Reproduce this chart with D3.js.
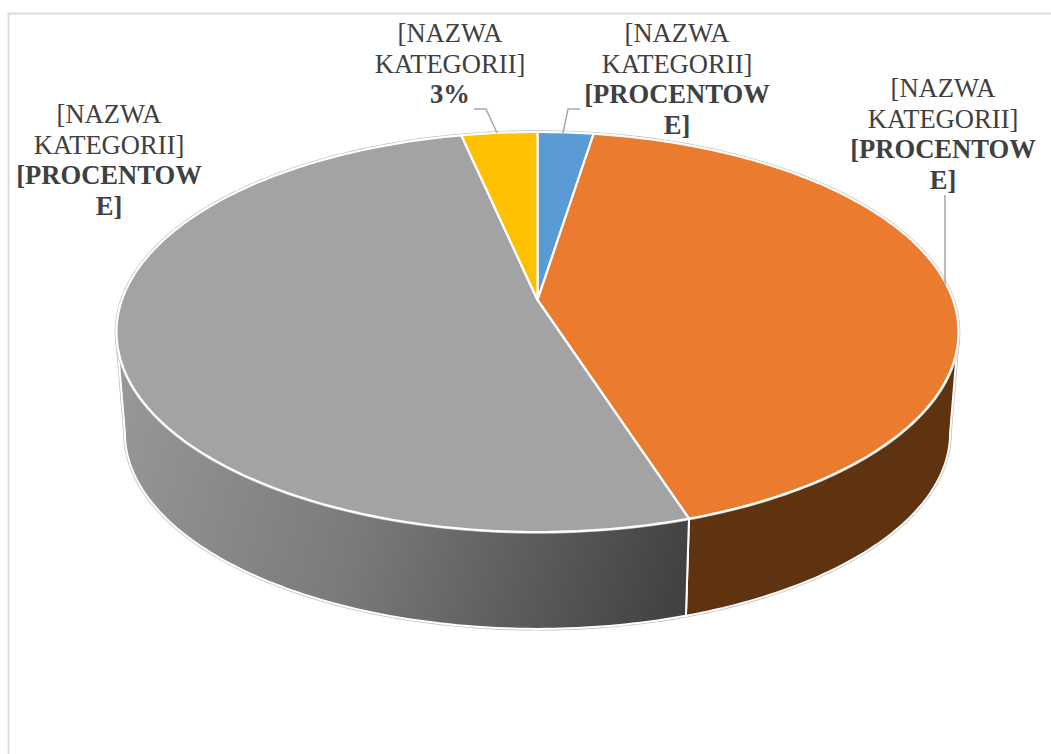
<!DOCTYPE html>
<html>
<head>
<meta charset="utf-8">
<script src="https://cdn.jsdelivr.net/npm/d3@7"></script>
<style>
html, body { margin: 0; padding: 0; background: #fff; }
svg { display: block; }
text { font-family: "Liberation Serif", serif; font-size: 26.6px; fill: #404040; text-anchor: middle; }
</style>
</head>
<body>
<div id="chart"></div>
<script>
//////////////////////////////////////////////////////////////////////////////
// Data

var categories = ["blue", "orange", "gray", "yellow"];
var shares = [2.5, 42.5, 51.6, 3.4];
var topColors = ["#5b9bd5", "#ea7b2f", "#a3a3a3", "#ffc000"];
var nameLines = ["[NAZWA", "KATEGORII]"];
var valueLines = [
    ["[PROCENTOW", "E]"],
    ["[PROCENTOW", "E]"],
    ["[PROCENTOW", "E]"],
    ["3%"]
];

//////////////////////////////////////////////////////////////////////////////
// Layout

var width = 1051, height = 754;
var cx = 537.5, apexY = 300;
var tilt = 0.16;             // perspective of the disc
var rimX = 415.6, rimY = 194.9;
var depth = 101.5, floorScale = 0.98;

var labelPos = [
    {x: 677, y: 42},
    {x: 943, y: 97},
    {x: 109, y: 123},
    {x: 450, y: 42}
];
var leaders = [
    "M580,109 L568,109 L563,133",
    "M945,195 L945,285",
    "",
    "M474,109 L486,109 L497,133"
];

// the wall only shows between the two points where the rim is widest
var wallFrom = Math.acos(-tilt);
var wallTo = 2 * Math.PI - wallFrom;

// unit disc -> screen, looking at it from above and in front
function project(angle, scale, dy) {
    var X = Math.sin(angle), Y = -Math.cos(angle);
    var w = 1 - tilt * Y;
    return [cx + scale * rimX * X / w, apexY + dy + scale * rimY * Y / w];
}

function arcPoints(d, scale, dy) {
    var n = Math.max(2, Math.ceil((d.endAngle - d.startAngle) * 60));
    var step = d3.scaleLinear().domain([0, n]).range([d.startAngle, d.endAngle]);
    return d3.range(n + 1).map(function(i) { return project(step(i), scale, dy); });
}

var line = d3.line();

function clampWall(d) {
    return {
        startAngle: Math.max(d.startAngle, wallFrom),
        endAngle: Math.min(d.endAngle, wallTo)
    };
}

function wallPath(d) {
    var c = clampWall(d);
    if (c.endAngle <= c.startAngle) return null;
    var upper = arcPoints(c, 1, 0);
    var lower = arcPoints(c, floorScale, depth).reverse();
    return line(upper.concat(lower)) + "Z";
}

function facePath(d) {
    return line([[cx, apexY]].concat(arcPoints(d, 1, 0))) + "Z";
}

//////////////////////////////////////////////////////////////////////////////
// Drawing

var svg = d3.select("#chart").append("svg")
    .attr("width", width)
    .attr("height", height);

svg.append("rect").attr("width", width).attr("height", height).attr("fill", "#fff");

// frame, runs off the right and bottom of the picture
svg.append("path")
    .attr("d", "M1051,13.5 L8.5,13.5 L8.5,754")
    .attr("fill", "none")
    .attr("stroke", "#dcdcdc")
    .attr("stroke-width", 2);

var defs = svg.append("defs");
var grad = defs.append("linearGradient")
    .attr("id", "wallGray")
    .attr("gradientUnits", "userSpaceOnUse")
    .attr("x1", 120).attr("y1", 400)
    .attr("x2", 690).attr("y2", 560);
grad.append("stop").attr("offset", 0).attr("stop-color", "#979797");
grad.append("stop").attr("offset", 0.45).attr("stop-color", "#7a7a7a");
grad.append("stop").attr("offset", 1).attr("stop-color", "#414141");

var wallColors = ["#2f5f8c", "#5f3210", "url(#wallGray)", "#8a6800"];

var slices = d3.pie().sort(null).value(function(d) { return d; })(shares);
var whole = {startAngle: 0, endAngle: 2 * Math.PI};

// soft grey rim under the white slice edges
svg.append("path")
    .attr("d", wallPath(whole))
    .attr("fill", "none")
    .attr("stroke", "#bdbdbd")
    .attr("stroke-width", 3.4);

svg.selectAll("path.wall")
    .data(slices.filter(wallPath))
    .enter()
    .append("path")
    .attr("class", "wall")
    .attr("d", wallPath)
    .attr("fill", function(d) { return wallColors[d.index]; })
    .attr("stroke", "#fff")
    .attr("stroke-width", 2)
    .attr("stroke-linejoin", "round");

svg.append("path")
    .attr("d", facePath(whole))
    .attr("fill", "none")
    .attr("stroke", "#bdbdbd")
    .attr("stroke-width", 3.4);

svg.selectAll("path.face")
    .data(slices)
    .enter()
    .append("path")
    .attr("class", "face")
    .attr("d", facePath)
    .attr("fill", function(d, i) { return topColors[i]; })
    .attr("stroke", "#fff")
    .attr("stroke-width", 2.2)
    .attr("stroke-linejoin", "round");

// leader lines
svg.selectAll("path.leader")
    .data(leaders.filter(function(d) { return d; }))
    .enter()
    .append("path")
    .attr("class", "leader")
    .attr("d", function(d) { return d; })
    .attr("fill", "none")
    .attr("stroke", "#a6a6a6")
    .attr("stroke-width", 1.5);

// labels
var labels = svg.selectAll("text.label")
    .data(categories)
    .enter()
    .append("text")
    .attr("class", "label")
    .attr("transform", function(d, i) {
        return "translate(" + labelPos[i].x + "," + labelPos[i].y + ")";
    });

labels.each(function(d, i) {
    var t = d3.select(this);
    nameLines.forEach(function(s, k) {
        t.append("tspan").attr("x", 0).attr("y", k * 30.7).text(s);
    });
    valueLines[i].forEach(function(s, k) {
        t.append("tspan")
            .attr("x", 0)
            .attr("y", (k + 2) * 30.7)
            .attr("font-weight", "bold")
            .text(s);
    });
});
</script>
</body>
</html>
